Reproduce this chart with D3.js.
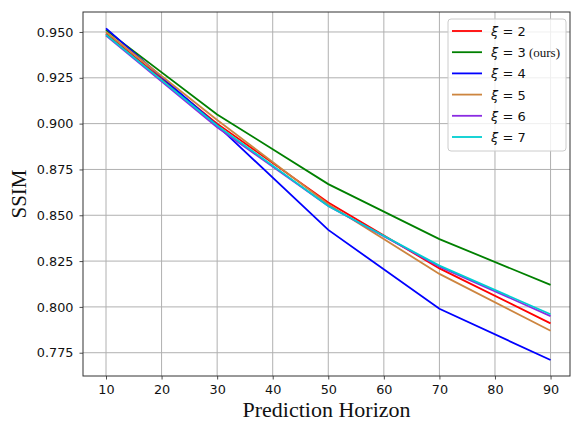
<!DOCTYPE html>
<html lang="en">
<head>
    <meta charset="UTF-8">
    <title>SSIM vs Prediction Horizon</title>
    <script src="https://d3js.org/d3.v7.min.js"></script>
    <style>
        body { margin: 0; background: white; }
    </style>
</head>
<body>
    <script>
        // data
        var horizons = [10, 30, 50, 70, 90];
        var xi2 = [0.949, 0.900, 0.857, 0.821, 0.791];
        var xi3 = [0.951, 0.905, 0.867, 0.837, 0.812];
        var xi4 = [0.952, 0.899, 0.842, 0.799, 0.771];
        var xi5 = [0.950, 0.902, 0.856, 0.818, 0.787];
        var xi6 = [0.948, 0.898, 0.855, 0.822, 0.795];
        var xi7 = [0.9485, 0.899, 0.855, 0.8225, 0.796];
        var seriesNames = ["2", "3", "4", "5", "6", "7"];
        var seriesColors = ["#ff0000", "#008000", "#0000ff", "#cd853f", "#8a2be2", "#00ced1"];
        var xTicks = [10, 20, 30, 40, 50, 60, 70, 80, 90];
        var yTicks = [0.775, 0.800, 0.825, 0.850, 0.875, 0.900, 0.925, 0.950];

        var allSeries = [xi2, xi3, xi4, xi5, xi6, xi7];

        var w = 571, h = 423;
        // plot box edges (note: "top" is reserved on window)
        var pLeft = 83, pRight = 570, pTop = 12, pBottom = 376;

        var svg = d3.select("body").append("svg")
            .attr("width", w)
            .attr("height", h);

        var x = d3.scaleLinear().domain([5.86, 93.5]).range([pLeft, pRight]);
        var y = d3.scaleLinear().domain([0.7623, 0.9609]).range([pBottom, pTop]);

        // grid
        svg.append("g").selectAll("line")
            .data(xTicks).join("line")
            .attr("x1", d => x(d)).attr("x2", d => x(d))
            .attr("y1", pTop).attr("y2", pBottom)
            .style("stroke", "#b0b0b0").style("stroke-width", 1);
        svg.append("g").selectAll("line")
            .data(yTicks).join("line")
            .attr("x1", pLeft).attr("x2", pRight)
            .attr("y1", d => y(d)).attr("y2", d => y(d))
            .style("stroke", "#b0b0b0").style("stroke-width", 1);

        // lines
        var line = d3.line()
            .x((d, i) => x(horizons[i]))
            .y(d => y(d));

        svg.append("g").selectAll("path")
            .data(allSeries).join("path")
            .attr("d", d => line(d))
            .style("fill", "none")
            .style("stroke", (d, i) => seriesColors[i])
            .style("stroke-width", 1.8);

        // axes
        var xAxis = d3.axisBottom(x).tickValues(xTicks).tickSize(3.5).tickPadding(5);
        var yAxis = d3.axisLeft(y).tickValues(yTicks).tickFormat(d3.format(".3f")).tickSize(3.5).tickPadding(6);

        var gx = svg.append("g").attr("transform", "translate(0," + pBottom + ")").call(xAxis);
        var gy = svg.append("g").attr("transform", "translate(" + pLeft + ",0)").call(yAxis);
        [gx, gy].forEach(function(g) {
            g.select(".domain").remove();
            g.selectAll("line").style("stroke", "#222").style("stroke-width", 0.8);
            g.selectAll("text")
                .style("font-family", "DejaVu Sans")
                .style("font-size", "12.8px")
                .style("fill", "#111");
        });

        // frame
        svg.append("rect")
            .attr("x", pLeft).attr("y", pTop)
            .attr("width", pRight - pLeft).attr("height", pBottom - pTop)
            .style("fill", "none").style("stroke", "#333").style("stroke-width", 1);

        // axis titles
        svg.append("text")
            .attr("x", (pLeft + pRight) / 2).attr("y", 417)
            .attr("text-anchor", "middle")
            .style("font-family", "Liberation Serif")
            .style("font-size", "22px")
            .style("fill", "#111")
            .text("Prediction Horizon");

        svg.append("text")
            .attr("transform", "translate(26," + ((pTop + pBottom) / 2) + ") rotate(-90)")
            .attr("text-anchor", "middle")
            .style("font-family", "Liberation Serif")
            .style("font-size", "21px")
            .style("fill", "#111")
            .text("SSIM");

        // legend
        var lg = svg.append("g");
        lg.append("rect")
            .attr("x", 448).attr("y", 19)
            .attr("width", 118).attr("height", 132)
            .attr("rx", 3)
            .style("fill", "white").style("fill-opacity", 0.8)
            .style("stroke", "#cccccc").style("stroke-width", 1);

        var items = lg.selectAll("g")
            .data(seriesNames).join("g")
            .attr("transform", (d, i) => "translate(0," + (31 + i * 21.2) + ")");
        items.append("line")
            .attr("x1", 452).attr("x2", 482)
            .style("stroke", (d, i) => seriesColors[i])
            .style("stroke-width", 1.8);
        var t = items.append("text")
            .attr("x", 491).attr("y", 5)
            .style("font-family", "DejaVu Sans")
            .style("font-size", "13px")
            .style("fill", "#111");
        t.append("tspan").style("font-style", "italic").text("ξ");
        t.append("tspan").text(d => " = " + d);
        t.filter(d => d === "3").append("tspan")
            .style("font-family", "Liberation Serif")
            .style("font-size", "13px")
            .text(" (ours)");
    </script>
</body>
</html>
